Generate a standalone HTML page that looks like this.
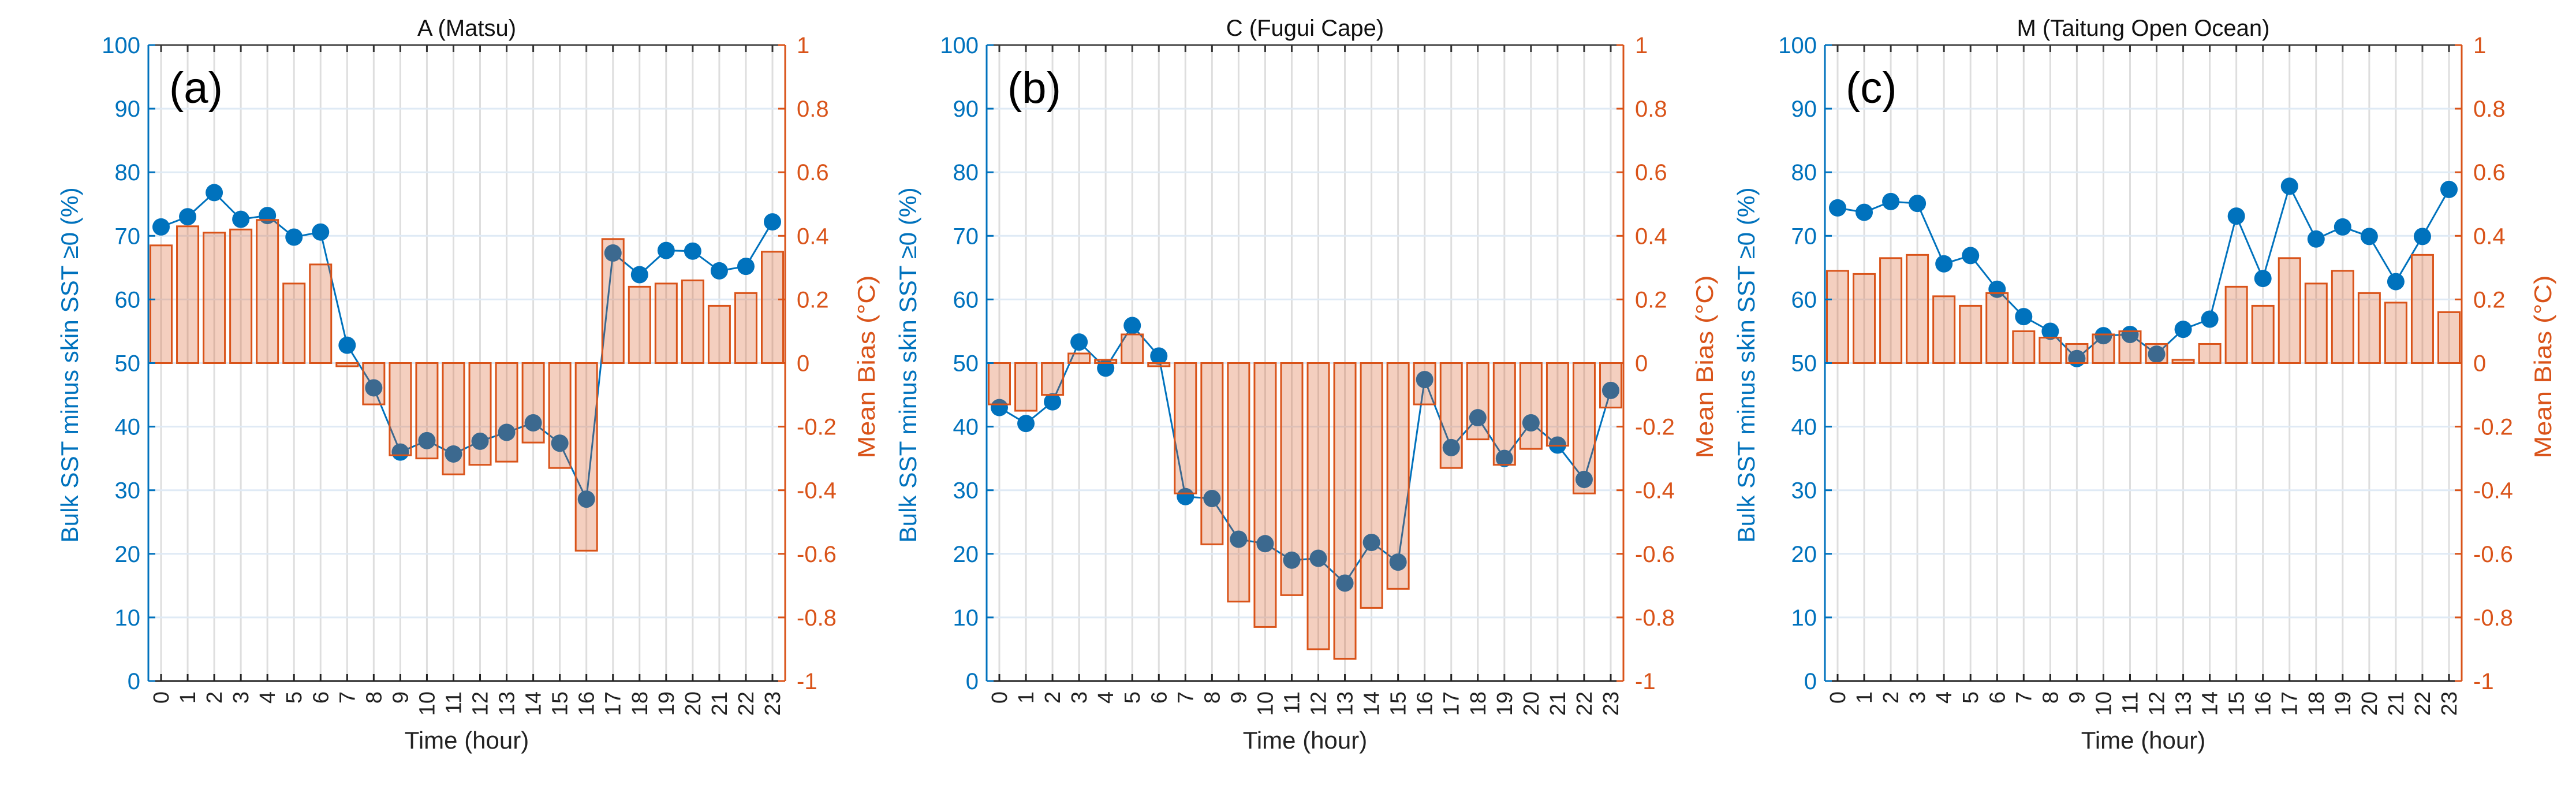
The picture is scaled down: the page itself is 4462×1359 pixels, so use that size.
<!DOCTYPE html>
<html><head><meta charset="utf-8"><style>
html,body{margin:0;padding:0;background:#fff;}
svg{display:block;font-family:"Liberation Sans",sans-serif;}
</style></head>
<body>
<svg id="fig" width="4462" height="1359" viewBox="0 0 4462 1359" xmlns="http://www.w3.org/2000/svg"></svg>
<script>
const hours = [0,1,2,3,4,5,6,7,8,9,10,11,12,13,14,15,16,17,18,19,20,21,22,23];
const pctTicks = [0,10,20,30,40,50,60,70,80,90,100];
const biasTicks = [-1,-0.8,-0.6,-0.4,-0.2,0,0.2,0.4,0.6,0.8,1];
const biasTickLabels = ["-1","-0.8","-0.6","-0.4","-0.2","0","0.2","0.4","0.6","0.8","1"];
const titles = ["A (Matsu)","C (Fugui Cape)","M (Taitung Open Ocean)"];
const panelLabels = ["(a)","(b)","(c)"];
const pctA = [71.4,73.0,76.8,72.6,73.2,69.8,70.6,52.8,46.1,36.0,37.8,35.7,37.7,39.1,40.6,37.4,28.6,67.3,63.9,67.7,67.6,64.5,65.2,72.2];
const biasA = [0.37,0.43,0.41,0.42,0.45,0.25,0.31,-0.01,-0.13,-0.29,-0.30,-0.35,-0.32,-0.31,-0.25,-0.33,-0.59,0.39,0.24,0.25,0.26,0.18,0.22,0.35];
const pctB = [43.0,40.5,43.9,53.3,49.2,55.9,51.1,29.0,28.7,22.3,21.6,19.0,19.3,15.4,21.8,18.7,47.4,36.7,41.4,35.0,40.6,37.1,31.7,45.7];
const biasB = [-0.13,-0.15,-0.10,0.03,0.01,0.09,-0.01,-0.41,-0.57,-0.75,-0.83,-0.73,-0.90,-0.93,-0.77,-0.71,-0.13,-0.33,-0.24,-0.32,-0.27,-0.26,-0.41,-0.14];
const pctC = [74.4,73.7,75.4,75.1,65.6,66.9,61.6,57.3,55.0,50.7,54.3,54.5,51.4,55.3,56.9,73.1,63.3,77.8,69.5,71.4,69.9,62.8,69.9,77.3];
const biasC = [0.29,0.28,0.33,0.34,0.21,0.18,0.22,0.10,0.08,0.06,0.09,0.10,0.06,0.01,0.06,0.24,0.18,0.33,0.25,0.29,0.22,0.19,0.34,0.16];
const pctSeries = [pctA,pctB,pctC];
const biasSeries = [biasA,biasB,biasC];

const NS="http://www.w3.org/2000/svg";
const svg=document.getElementById('fig');
function mk(tag,attrs,parent){const e=document.createElementNS(NS,tag);for(const k in attrs)e.setAttribute(k,attrs[k]);(parent||svg).appendChild(e);return e;}
const BLUE="#0072bd", ORANGE="#d95319";
const lefts=[257,1709,3161], W=1103, TOP=78, BOT=1179, PAD=22;

for(let p=0;p<3;p++){
  const L=lefts[p], R=L+W;
  const g=mk('g',{});
  
  
  const xs=h=>L+PAD+h*(W-2*PAD)/23;
  const yp=v=>BOT-(v/100)*(BOT-TOP);
  const yb=v=>BOT-((v+1)/2)*(BOT-TOP);
  // grids
  for(const h of hours){const l=mk('line',{x1:xs(h),x2:xs(h),y1:TOP,y2:BOT,stroke:'#dedede','stroke-width':3},g);
    }
  for(const t of pctTicks){const l=mk('line',{x1:L,x2:R,y1:yp(t),y2:yp(t),stroke:'#dfeaf5','stroke-width':3},g);
    }
  // line series
  const pts=pctSeries[p].map((v,i)=>xs(hours[i])+','+yp(v)).join(' ');
  const pl=mk('polyline',{points:pts,fill:'none',stroke:BLUE,'stroke-width':3},g);
  
  pctSeries[p].forEach((v,i)=>{const c=mk('circle',{cx:xs(hours[i]),cy:yp(v),r:15,fill:BLUE},g);
    });
  // bars
  const bw=37, y0=yb(0);
  biasSeries[p].forEach((v,i)=>{const y1=yb(v);
    const r=mk('rect',{x:xs(hours[i])-bw/2,y:Math.min(y0,y1),width:bw,height:Math.max(Math.abs(y1-y0),1),fill:'rgba(217,83,25,0.28)',stroke:ORANGE,'stroke-width':3},g);
    });
  // axes
  mk('line',{x1:L,x2:R,y1:TOP,y2:TOP,stroke:'#444','stroke-width':3},g);
  mk('line',{x1:L,x2:R,y1:BOT,y2:BOT,stroke:'#222','stroke-width':3},g);
  mk('line',{x1:L,x2:L,y1:TOP,y2:BOT,stroke:BLUE,'stroke-width':3},g);
  mk('line',{x1:R,x2:R,y1:TOP,y2:BOT,stroke:ORANGE,'stroke-width':3},g);
  for(const h of hours){mk('line',{x1:xs(h),x2:xs(h),y1:BOT,y2:BOT-12,stroke:'#222','stroke-width':3},g);
    mk('line',{x1:xs(h),x2:xs(h),y1:TOP,y2:TOP+12,stroke:'#333','stroke-width':3},g);
    const t=mk('text',{x:0,y:0,transform:`translate(${xs(h)+13},${BOT+18}) rotate(-90)`,'text-anchor':'end','font-size':38,fill:'#222'},g);
    t.textContent=h;}
  pctTicks.forEach(t=>{mk('line',{x1:L,x2:L+12,y1:yp(t),y2:yp(t),stroke:BLUE,'stroke-width':3},g);
    const tx=mk('text',{x:L-14,y:yp(t)+14,'text-anchor':'end','font-size':40,fill:BLUE},g);
    tx.textContent=t;});
  biasTicks.forEach((t,i)=>{mk('line',{x1:R-12,x2:R,y1:yb(t),y2:yb(t),stroke:ORANGE,'stroke-width':3},g);
    const tx=mk('text',{x:R+20,y:yb(t)+14,'text-anchor':'start','font-size':40,fill:ORANGE},g);
    tx.textContent=biasTickLabels[i];});
  const ti=mk('text',{x:(L+R)/2,y:62,'text-anchor':'middle','font-size':40,fill:'#111'},g);
  ti.textContent=titles[p];
  const pl2=mk('text',{x:L+36,y:178,'font-size':76,fill:'#000'},g);
  pl2.textContent=panelLabels[p];
  const xl=mk('text',{x:(L+R)/2,y:1296,'text-anchor':'middle','font-size':42,fill:'#222'},g);
  xl.textContent='Time (hour)';
  const yl=mk('text',{x:0,y:0,transform:`translate(${L-122},632) rotate(-90)`,'text-anchor':'middle','font-size':42,fill:BLUE,textLength:615,lengthAdjust:'spacingAndGlyphs'},g);
  yl.textContent='Bulk SST minus skin SST \u22650 (%)';
  const yr=mk('text',{x:0,y:0,transform:`translate(${R+155},635) rotate(-90)`,'text-anchor':'middle','font-size':42,fill:ORANGE,textLength:317,lengthAdjust:'spacingAndGlyphs'},g);
  yr.textContent='Mean Bias  (\u00B0C)';
}
</script>
</body></html>
